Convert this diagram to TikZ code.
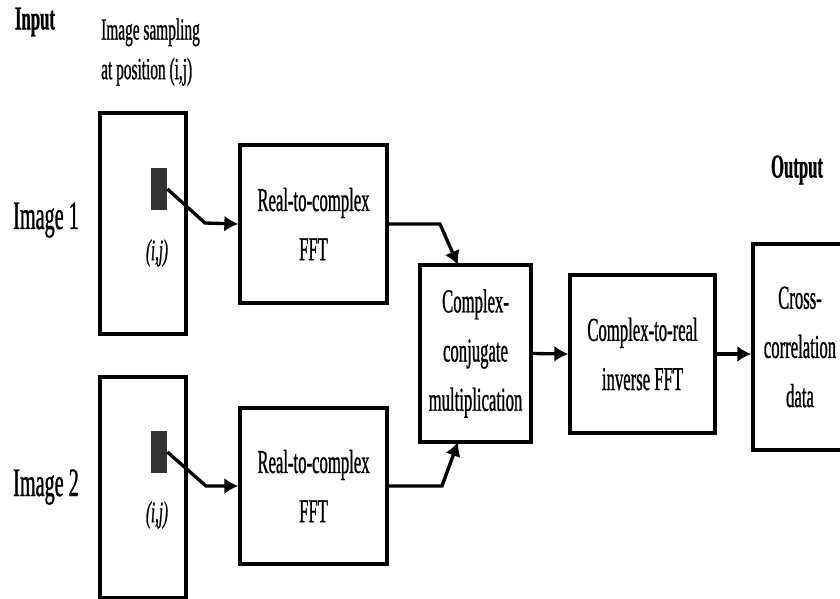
\documentclass[tikz,border=0pt]{standalone}
\usepackage{fontspec}
\setmainfont[FakeStretch=0.5, FakeBold=0.8]{Liberation Serif}
\usetikzlibrary{arrows.meta, positioning}

\begin{document}
\begin{tikzpicture}[x=0.02cm, y=-0.02cm, >={Latex[length=0.28cm, width=0.32cm]},
    box/.style={draw, line width=1.9pt, inner sep=0pt, align=center,
        font=\fontsize{19}{28}\selectfont},
    frame/.style={draw, line width=1.9pt, inner sep=0pt,
        minimum width=1.72cm, minimum height=4.42cm},
    sample/.style={fill=black!80, inner sep=0pt,
        minimum width=0.32cm, minimum height=0.84cm},
    lnk/.style={line width=1.9pt}]
    \useasboundingbox (0,0) rectangle (840,599);

    % 1. Headings
    \node[font=\bfseries\fontsize{19}{22}\selectfont] (inp) at (35,22) {Input};
    \node[anchor=west, align=left, font=\fontsize{17.5}{22.5}\selectfont] (samp)
        at (95,52) {Image sampling\\at position (i,j)};
    \node[font=\bfseries\fontsize{19}{22}\selectfont] (outp) at (797,170) {Output};

    % 2. Input images
    \node[frame] (img1) at (143,223.5) {};
    \node[frame] (img2) at (143,487.5) {};
    \node[font=\fontsize{23}{26}\selectfont] (lab1) at (46,220) {Image 1};
    \node[font=\fontsize{23}{26}\selectfont] (lab2) at (46,487) {Image 2};
    \node[sample] (sq1) at (159,189) {};
    \node[sample] (sq2) at (159,452) {};
    \node[font=\itshape\fontsize{17}{20}\selectfont] (ij1) at (157,253) {(i,j)};
    \node[font=\itshape\fontsize{17}{20}\selectfont] (ij2) at (157,515) {(i,j)};

    % 3. Processing blocks
    \node[box, minimum width=2.94cm, minimum height=3.16cm] (fft1) at (313.5,224)
        {Real-to-complex\\FFT};
    \node[box, minimum width=2.94cm, minimum height=3.12cm] (fft2) at (313.5,486)
        {Real-to-complex\\FFT};
    \node[box, minimum width=2.22cm, minimum height=3.54cm] (conj) at (475.5,353.5)
        {Complex-\\conjugate\\multiplication};
    \node[box, minimum width=2.9cm, minimum height=3.16cm] (inv) at (642.5,354)
        {Complex-to-real\\inverse FFT};
    \node[box, minimum width=1.88cm, minimum height=4.12cm] (cross) at (800,347)
        {Cross-\\correlation\\data};

    % 4. Connectors
    \coordinate (k1) at (205,223);
    \coordinate (k2) at (206,486);
    \coordinate (k3) at (440,224);
    \coordinate (k4) at (442,486);
    \coordinate (t1) at (458,265);
    \coordinate (t2) at (458,442);
    \draw[lnk, ->] (sq1.east) -- (k1) -- (fft1.west);
    \draw[lnk, ->] (sq2.east) -- (k2) -- (fft2.west);
    \draw[lnk, ->] (fft1.east) -- (k3) -- (t1);
    \draw[lnk, ->] (fft2.east) -- (k4) -- (t2);
    \draw[lnk, ->] (conj.east) -- (inv.west);
    \draw[lnk, ->] (inv.east) -- (inv.east -| cross.west);
\end{tikzpicture}
\end{document}
